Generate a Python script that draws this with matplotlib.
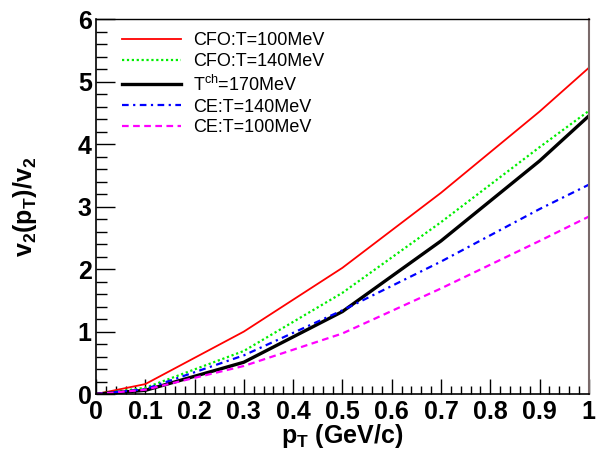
import matplotlib
matplotlib.use('Agg')
import matplotlib.pyplot as plt
from matplotlib.ticker import MultipleLocator

plt.rcParams['font.family'] = ['Liberation Sans', 'DejaVu Sans']
plt.rcParams['mathtext.fontset'] = 'custom'
plt.rcParams['mathtext.rm'] = 'Liberation Sans'
plt.rcParams['mathtext.it'] = 'Liberation Sans'
plt.rcParams['mathtext.bf'] = 'Liberation Sans:bold'

# pT points (GeV/c) and v2(pT)/v2
pt = [0.0, 0.1, 0.3, 0.5, 0.7, 0.9, 1.0]
cfo_100 = [0.0, 0.16, 1.00, 2.02, 3.22, 4.52, 5.22]
cfo_140 = [0.0, 0.10, 0.69, 1.62, 2.75, 3.95, 4.53]
tch_170 = [0.0, 0.06, 0.51, 1.32, 2.45, 3.73, 4.45]
ce_140 = [0.0, 0.08, 0.62, 1.34, 2.12, 2.96, 3.35]
ce_100 = [0.0, 0.07, 0.45, 0.97, 1.69, 2.45, 2.84]
xtick_labels = ['0', '0.1', '0.2', '0.3', '0.4', '0.5', '0.6', '0.7', '0.8', '0.9', '1']

fig = plt.figure(figsize=(5.96, 4.53), dpi=100)
ax = fig.add_axes([0.161, 0.130, 0.827, 0.828])

ax.plot(pt, cfo_100, color='#ff0000', lw=1.3, label='CFO:T=100MeV')
ax.plot(pt, cfo_140, color='#00ee00', lw=1.6, ls=(0, (1, 1.2)), label='CFO:T=140MeV')
ax.plot(pt, tch_170, color='black', lw=2.4, label=r'T$^{\rm ch}$=170MeV')
ax.plot(pt, ce_140, color='#0000ff', lw=1.6, ls=(0, (3, 2, 1, 2)), label='CE:T=140MeV')
ax.plot(pt, ce_100, color='#ff00ff', lw=1.6, ls=(0, (3, 2)), label='CE:T=100MeV')

ax.set_xlim(0, 1)
ax.set_ylim(0, 6)
ax.xaxis.set_minor_locator(MultipleLocator(0.02))
ax.yaxis.set_major_locator(MultipleLocator(1))
ax.yaxis.set_minor_locator(MultipleLocator(0.2))
ax.set_xticks([i / 10 for i in range(11)])
ax.set_xticklabels(xtick_labels)
ax.tick_params(which='both', direction='in', top=False, right=False, width=1)
ax.tick_params(which='major', axis='x', length=11)
ax.tick_params(which='minor', axis='x', length=6)
ax.tick_params(which='major', axis='y', length=14)
ax.tick_params(which='minor', axis='y', length=8)
ax.tick_params(axis='y', labelsize=18, pad=3)
ax.tick_params(axis='x', labelsize=18, pad=4)
for lab in ax.get_xticklabels() + ax.get_yticklabels():
    lab.set_fontweight('bold')

for s in ['left', 'bottom']:
    ax.spines[s].set_linewidth(1.2)
ax.spines['top'].set_linewidth(1.0)
ax.spines['right'].set_linewidth(1.5)
ax.spines['right'].set_color('#7a6a6a')

ax.set_xlabel(r'$\mathbf{p_T}$ (GeV/c)', fontsize=18, fontweight='bold')
ax.xaxis.set_label_coords(0.5, -0.075)
ax.set_ylabel(r'$\mathbf{v_2(p_T)/v_2}$', fontsize=18, fontweight='bold')
ax.yaxis.set_label_coords(-0.115, 0.5)

ax.legend(loc='upper left', bbox_to_anchor=(0.03, 0.993), frameon=False, fontsize=13,
          handlelength=3.3, handletextpad=0.65, labelspacing=0.22, borderaxespad=0.2)

fig.savefig('out.png', dpi=100)
